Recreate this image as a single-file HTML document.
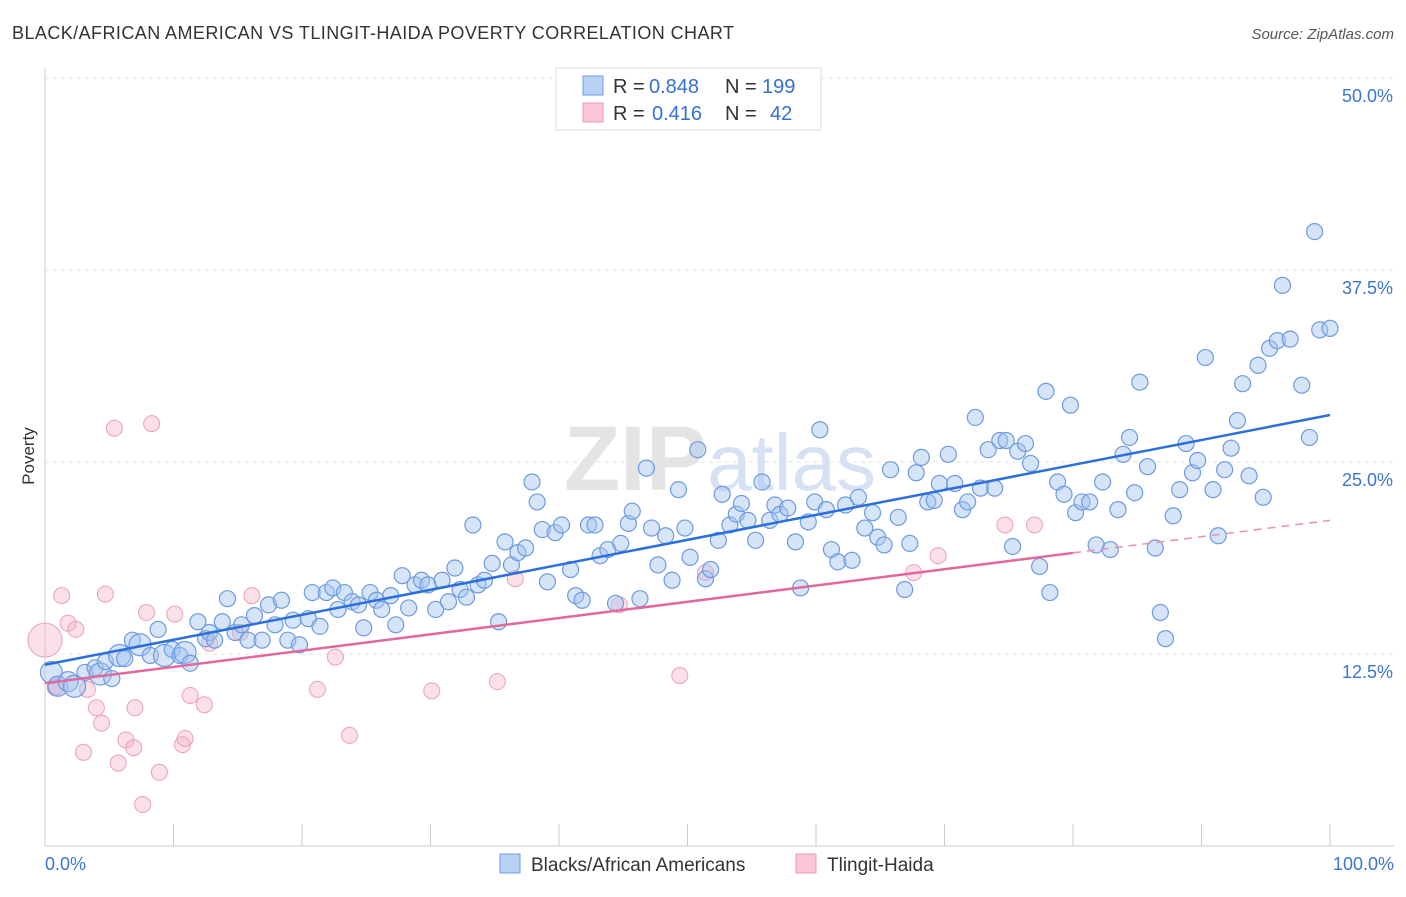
<!DOCTYPE html>
<html><head><meta charset="utf-8"><style>
body{margin:0;background:#fff;font-family:"Liberation Sans",sans-serif;}
svg text{font-family:"Liberation Sans",sans-serif;}
</style></head><body>
<svg id="chart" width="1406" height="892" xmlns="http://www.w3.org/2000/svg">
<text x="12" y="39" font-size="18" fill="#333" textLength="722">BLACK/AFRICAN AMERICAN VS TLINGIT-HAIDA POVERTY CORRELATION CHART</text>
<text x="1394" y="39" font-size="15" fill="#555" text-anchor="end" font-style="italic">Source: ZipAtlas.com</text>
<text x="720" y="490" font-size="92" fill="#e4e4e4" text-anchor="middle" font-family="Liberation Serif" font-weight="bold">ZIP<tspan fill="#d6e2f4" font-family="Liberation Sans" font-weight="normal" font-size="80">atlas</tspan></text>
<text x="34" y="456" font-size="17" fill="#333" text-anchor="middle" transform="rotate(-90 34 456)">Poverty</text>
<g id="grid"></g><g id="pink"></g><g id="blue"></g><g id="lines"></g>
<g>
<rect x="556" y="68" width="265" height="62" fill="#fff" stroke="#ddd"/>
<rect x="583" y="76" width="20" height="19" fill="#b9d1f5" stroke="#6f9be0"/>
<rect x="583" y="103" width="20" height="19" fill="#f9c7d6" stroke="#ec9ab4"/>
<text x="613" y="93" font-size="20" fill="#333">R =</text>
<text x="649" y="93" font-size="20" fill="#3570d4">0.848</text>
<text x="725" y="93" font-size="20" fill="#333">N =</text>
<text x="762" y="93" font-size="20" fill="#3570d4">199</text>
<text x="613" y="120" font-size="20" fill="#333">R =</text>
<text x="652" y="120" font-size="20" fill="#3570d4">0.416</text>
<text x="725" y="120" font-size="20" fill="#333">N =</text>
<text x="770" y="120" font-size="20" fill="#3570d4">42</text>
</g>
<g>
<rect x="500" y="854" width="20" height="19" fill="#b9d1f5" stroke="#6f9be0"/>
<text x="531" y="871" font-size="19" fill="#333">Blacks/African Americans</text>
<rect x="796" y="854" width="20" height="19" fill="#f9c7d6" stroke="#ec9ab4"/>
<text x="827" y="871" font-size="19" fill="#333">Tlingit-Haida</text>
</g>
</svg>
<script>
const yTicks=[12.5,25,37.5,50];
const yTickLabels=["12.5%","25.0%","37.5%","50.0%"];
const xTickLabels=["0.0%","100.0%"];
const blueX=[0.5,1.0,1.8,2.3,3.1,3.9,4.3,5.2,4.7,5.8,6.2,6.8,7.4,8.2,8.8,9.3,9.9,10.5,10.9,11.3,11.9,12.5,12.8,13.2,13.8,14.2,14.8,15.3,15.8,16.3,16.9,17.4,17.9,18.4,18.9,19.3,19.8,20.5,20.8,21.4,21.9,22.4,22.8,23.3,23.9,24.4,24.8,25.3,25.8,26.2,26.9,27.3,27.8,28.3,28.8,29.3,29.8,30.4,30.9,31.4,31.9,32.3,32.8,33.3,33.7,34.2,34.8,35.3,35.8,36.3,36.8,37.4,37.9,38.3,38.7,39.1,39.7,40.2,40.9,41.3,41.8,42.3,42.8,43.2,43.8,44.4,44.8,45.4,45.7,46.3,46.8,47.2,47.7,48.3,48.8,49.3,49.8,50.2,50.8,51.4,51.8,52.4,52.7,53.3,53.8,54.2,54.7,55.3,55.8,56.4,56.8,57.2,57.8,58.4,58.8,59.4,59.9,60.3,60.8,61.2,61.7,62.3,62.8,63.3,63.8,64.4,64.8,65.3,65.8,66.4,66.9,67.3,67.8,68.2,68.7,69.2,69.6,70.3,70.8,71.4,71.8,72.4,72.8,73.4,73.9,74.3,74.8,75.3,75.7,76.3,76.7,77.4,77.9,78.2,78.8,79.3,79.8,80.2,80.7,81.3,81.8,82.3,82.9,83.5,83.9,84.4,84.8,85.2,85.8,86.4,86.8,87.2,87.8,88.3,88.8,89.3,89.7,90.3,90.9,91.3,91.8,92.3,92.8,93.2,93.7,94.4,94.8,95.3,95.9,96.3,96.9,97.8,98.4,98.8,99.2,100];
const blueY=[11.3,10.4,10.7,10.4,11.3,11.6,11.2,10.9,12.0,12.4,12.2,13.4,13.1,12.4,14.1,12.4,12.8,12.4,12.6,11.9,14.6,13.5,13.9,13.4,14.6,16.1,13.9,14.4,13.4,15.0,13.4,15.7,14.4,16.0,13.4,14.7,13.1,14.8,16.5,14.3,16.5,16.8,15.4,16.5,15.9,15.7,14.2,16.5,16.0,15.4,16.3,14.4,17.6,15.5,17.0,17.3,17.0,15.4,17.3,15.9,18.1,16.7,16.2,20.9,17.0,17.3,18.4,14.6,19.8,18.3,19.1,19.4,23.7,22.4,20.6,17.2,20.4,20.9,18.0,16.3,16.0,20.9,20.9,18.9,19.3,15.8,19.7,21.0,21.8,16.1,24.6,20.7,18.3,20.2,17.3,23.2,20.7,18.8,25.8,17.4,18.0,19.9,22.9,20.9,21.6,22.3,21.2,19.9,23.7,21.2,22.2,21.6,22.0,19.8,16.8,21.1,22.4,27.1,21.9,19.3,18.5,22.2,18.6,22.7,20.7,21.7,20.1,19.6,24.5,21.4,16.7,19.7,24.3,25.3,22.4,22.5,23.6,25.5,23.6,21.9,22.4,27.9,23.3,25.8,23.3,26.4,26.4,19.5,25.7,26.2,24.9,18.2,29.6,16.5,23.7,22.9,28.7,21.7,22.4,22.4,19.6,23.7,19.3,21.9,25.5,26.6,23.0,30.2,24.7,19.4,15.2,13.5,21.5,23.2,26.2,24.3,25.1,31.8,23.2,20.2,24.5,25.9,27.7,30.1,24.1,31.3,22.7,32.4,32.9,36.5,33.0,30.0,26.6,40.0,33.6,33.7];
const pinkX=[0,0.8,1.3,1.8,2.4,3.0,3.3,4.0,4.4,4.7,5.4,5.7,6.3,6.9,7.0,7.6,7.9,8.3,8.9,10.1,10.7,10.9,11.3,12.4,12.8,16.1,21.2,22.6,23.7,30.1,35.2,36.6,44.7,49.4,51.4,67.6,69.5,74.7,77.0,0.9,15.2];
const pinkY=[13.4,10.3,16.3,14.5,14.1,6.1,10.2,9.0,8.0,16.4,27.2,5.4,6.9,6.4,9.0,2.7,15.2,27.5,4.8,15.1,6.6,7.0,9.8,9.2,13.2,16.3,10.2,12.3,7.2,10.1,10.7,17.4,15.7,11.1,17.8,17.8,18.9,20.9,20.9,10.4,13.9];
const blueTrend=[11.8,28.06];
const pinkTrend=[10.6,21.2];
const pinkSolidEnd=80;
const NS="http://www.w3.org/2000/svg";
const X0=45,X1=1330,Y0=846,YPX=15.36;
function sx(v){return X0+(X1-X0)*v/100;}
function sy(v){return Y0-v*YPX;}
function mk(tag,attrs,parent){const e=document.createElementNS(NS,tag);for(const k in attrs)e.setAttribute(k,attrs[k]);parent.appendChild(e);return e;}
const grid=document.getElementById('grid');
const g1=mk('line',{x1:X0,x2:1394,y1:sy(50),y2:sy(50),stroke:'#ddd','stroke-dasharray':'4,4'},grid);


yTicks.forEach((t,i)=>{
 const l=mk('line',{x1:X0,x2:1394,y1:sy(t),y2:sy(t),stroke:'#e2e2e2','stroke-dasharray':'4,4'},grid);
 
 
 const tx=mk('text',{x:1393,y:sy(t)+24,'font-size':18,fill:'#3b74d1','text-anchor':'end'},grid);
 tx.textContent=yTickLabels[i];
 
 
});
const ax=mk('line',{x1:X0,x2:X0,y1:68,y2:Y0,stroke:'#ccc'},grid);


const bx=mk('line',{x1:X0,x2:1394,y1:Y0,y2:Y0,stroke:'#ccc'},grid);


for(let i=0;i<=10;i++){
 const t=mk('line',{x1:sx(i*10),x2:sx(i*10),y1:Y0,y2:Y0-22,stroke:'#ccc'},grid);
 
 
}
[[0,'start',X0],[1,'end',1394]].forEach(([i,a,x])=>{
 const tx=mk('text',{x:x,y:870,'font-size':18,fill:'#3b74d1','text-anchor':a},grid);
 tx.textContent=xTickLabels[i];
 
 
});
const pg=document.getElementById('pink');
pinkX.forEach((v,i)=>{
 const c=mk('circle',{cx:sx(v),cy:sy(pinkY[i]),r:i===0?17:8,fill:'rgba(246,178,200,0.4)',stroke:'#eba0b9','stroke-width':1},pg);
 
 
});
const bg=document.getElementById('blue');
blueX.forEach((v,i)=>{
 const r=(v<12&&i%3===0)?11:(v<3?10:8);
 const c=mk('circle',{cx:sx(v),cy:sy(blueY[i]),r:r,fill:'rgba(165,195,240,0.45)',stroke:'#6d9ae0','stroke-width':1.2},bg);
 
 
});
const lg=document.getElementById('lines');
const bl=mk('line',{x1:sx(0),y1:sy(blueTrend[0]),x2:sx(100),y2:sy(blueTrend[1]),stroke:'#2a6fdb','stroke-width':2.5},lg);


const pm=pinkTrend[0]+(pinkTrend[1]-pinkTrend[0])*pinkSolidEnd/100;
const pl=mk('line',{x1:sx(0),y1:sy(pinkTrend[0]),x2:sx(pinkSolidEnd),y2:sy(pm),stroke:'#e2689c','stroke-width':2.5},lg);


const pd=mk('line',{x1:sx(pinkSolidEnd),y1:sy(pm),x2:sx(100),y2:sy(pinkTrend[1]),stroke:'#e890b0','stroke-width':1.5,'stroke-dasharray':'8,6'},lg);


</script>
</body></html>
